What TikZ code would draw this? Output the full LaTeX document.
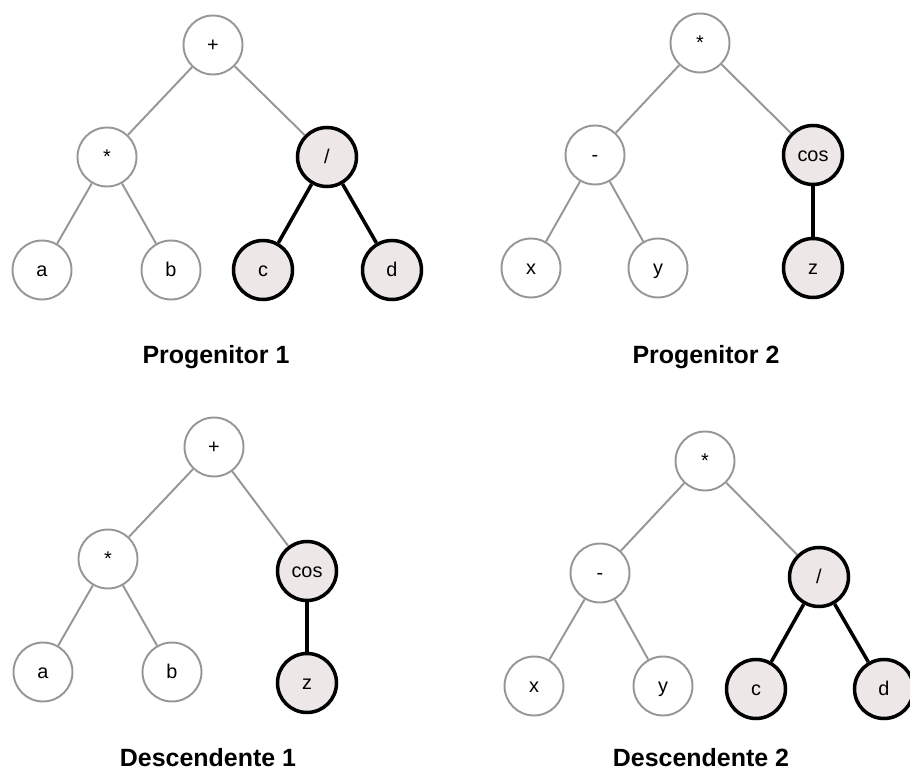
\documentclass[tikz,border=0pt]{standalone}
\usepackage{fontspec}
\setmainfont{Liberation Sans}
\usetikzlibrary{positioning}
\definecolor{treegray}{RGB}{150,150,150}
\definecolor{hlfill}{RGB}{237,231,231}
\tikzset{
  tnode/.style={circle, draw=treegray, line width=1.1pt, minimum size=1.18cm,
    inner sep=0pt, text height=1.5ex, text depth=0pt,
    font=\fontsize{11.3}{13}\selectfont},
  hnode/.style={tnode, draw=black, line width=2pt, fill=hlfill},
  tedge/.style={treegray, line width=1.1pt},
  hedge/.style={black, line width=2pt},
  treelabel/.style={font=\fontsize{14.2}{17}\selectfont\bfseries}
}
\begin{document}
\begin{tikzpicture}[x=0.02cm, y=-0.02cm]
\useasboundingbox (0,0) rectangle (910,770);
% Progenitor 1
\node[tnode] (p1plus) at (213,45) {+};
\node[tnode] (p1mul) at (107,157) {*};
\node[hnode] (p1div) at (327,157) {/};
\node[tnode] (p1a) at (42,270) {a};
\node[tnode] (p1b) at (171,270) {b};
\node[hnode] (p1c) at (263,270) {c};
\node[hnode] (p1d) at (392,270) {d};
\node[treelabel] (p1lbl) at (216,357) {Progenitor 1};
% Progenitor 2
\node[tnode] (p2mul) at (700,43) {*};
\node[tnode] (p2sub) at (595,155) {-};
\node[hnode] (p2cos) at (813,155) {cos};
\node[tnode] (p2x) at (531,268) {x};
\node[tnode] (p2y) at (658,268) {y};
\node[hnode] (p2z) at (813,268) {z};
\node[treelabel] (p2lbl) at (706,357) {Progenitor 2};
% Descendente 1
\node[tnode] (d1plus) at (214,447) {+};
\node[tnode] (d1mul) at (108,559) {*};
\node[hnode] (d1cos) at (307,571) {cos};
\node[tnode] (d1a) at (43,672) {a};
\node[tnode] (d1b) at (172,672) {b};
\node[hnode] (d1z) at (307,683) {z};
\node[treelabel] (d1lbl) at (208,758) {Descendente 1};
% Descendente 2
\node[tnode] (d2mul) at (705,461) {*};
\node[tnode] (d2sub) at (600,573) {-};
\node[hnode] (d2div) at (819,577) {/};
\node[tnode] (d2x) at (534,686) {x};
\node[tnode] (d2y) at (663,686) {y};
\node[hnode] (d2c) at (756,689) {c};
\node[hnode] (d2d) at (884,689) {d};
\node[treelabel] (d2lbl) at (701,758) {Descendente 2};
% gray edges
\foreach \a/\b in {p1plus/p1mul, p1plus/p1div, p1mul/p1a, p1mul/p1b,
                   p2mul/p2sub, p2mul/p2cos, p2sub/p2x, p2sub/p2y,
                   d1plus/d1mul, d1plus/d1cos, d1mul/d1a, d1mul/d1b,
                   d2mul/d2sub, d2mul/d2div, d2sub/d2x, d2sub/d2y}
  \draw[tedge] (\a) -- (\b);
% swapped subtrees
\foreach \a/\b in {p1div/p1c, p1div/p1d, p2cos/p2z, d1cos/d1z, d2div/d2c, d2div/d2d}
  \draw[hedge] (\a) -- (\b);
\end{tikzpicture}
\end{document}
